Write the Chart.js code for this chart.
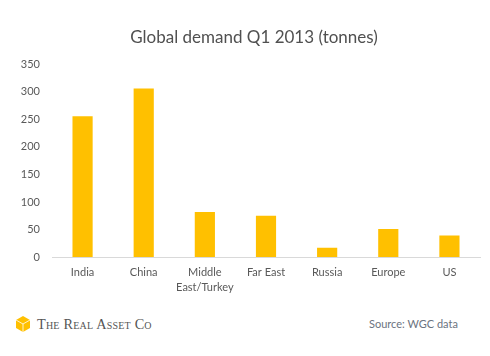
<!DOCTYPE html>
<html><head><meta charset="utf-8">
<script src="https://cdn.jsdelivr.net/npm/chart.js@4"></script>
<style>
html,body{margin:0;padding:0;background:#fff;width:490px;height:356px;overflow:hidden;font-family:Lato,"Open Sans",sans-serif}
#wrap{position:absolute;left:0;top:0;width:490px;height:300px}
#logo{position:absolute;left:14px;top:314px;height:20px;display:flex;align-items:center}
#logo span{font-family:"Liberation Serif",serif;font-variant:small-caps;color:#555;font-size:14.3px;letter-spacing:0.2px;margin-left:5px}
#src{position:absolute;left:369px;top:317px;font-family:Lato,sans-serif;font-size:11px;color:#6b7380}
</style></head><body>
<div id="wrap"><canvas id="c" width="490" height="300"></canvas></div>
<div id="logo"><svg width="18" height="18" viewBox="0 0 18 18"><polygon points="9,1 16,5 16,13 9,17 2,13 2,5" fill="#FFC000"/><polyline points="2,5 9,9 16,5" fill="none" stroke="#fff" stroke-width="0.8"/><line x1="9" y1="9" x2="9" y2="17" stroke="#fff" stroke-width="0.8"/></svg><span>The Real Asset Co</span></div>
<div id="src">Source: WGC data</div>
<script>
const titleText = "Global demand Q1 2013 (tonnes)";
const categories = ["India", "China", ["Middle", "East/Turkey"], "Far East", "Russia", "Europe", "US"];
const demand = [256, 306, 82, 75, 17, 51, 39];
const yTicks = [0, 50, 100, 150, 200, 250, 300, 350];

const shiftTitle = {
  id: 'shiftTitle',
  afterLayout(chart) {
    const t = chart.titleBlock;
    if (t) { t.left = 28; t.width = t.right - t.left; }
  }
};

new Chart(document.getElementById('c'), {
  type: 'bar',
  data: { labels: categories, datasets: [{ data: demand, backgroundColor: '#FFC000', categoryPercentage: 1, barPercentage: 0.33 }] },
  plugins: [shiftTitle],
  options: {
    responsive: false, animation: false,
    layout: { padding: { left: 0, right: 10, top: 0, bottom: 0 } },
    plugins: {
      legend: { display: false }, tooltip: { enabled: false },
      title: { display: true, text: titleText, color: '#505050', font: { family: 'Lato', size: 17, weight: 'normal' }, padding: { top: 27, bottom: 17 } }
    },
    scales: {
      x: {
        grid: { display: false, drawTicks: false },
        border: { color: '#d9d9d9' },
        ticks: { color: '#595959', font: { family: 'Lato', size: 11, lineHeight: 1.35 }, padding: 8, maxRotation: 0, autoSkip: false },
        afterFit: s => { s.height = 43; }
      },
      y: {
        min: 0, max: 350,
        grid: { display: false, drawTicks: false },
        border: { display: false },
        afterBuildTicks: s => { s.ticks = yTicks.map(v => ({ value: v })); },
        ticks: { color: '#595959', font: { family: 'Lato', size: 11 }, padding: 12 },
        afterFit: s => { s.width = 52; }
      }
    }
  }
});
</script>
</body></html>
